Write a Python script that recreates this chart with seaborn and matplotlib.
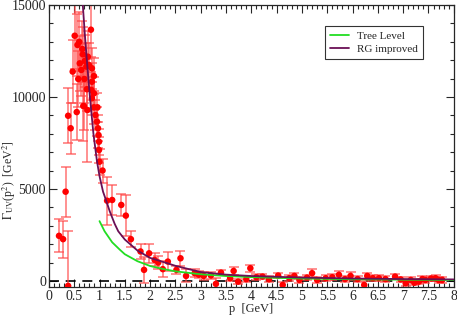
import matplotlib
matplotlib.use('Agg')
import matplotlib.pyplot as plt
import matplotlib.ticker as mticker
import seaborn as sns
import pandas as pd

# lattice data: momentum, value, error
p_data = [0.20, 0.28, 0.33, 0.38, 0.38, 0.43, 0.47, 0.51, 0.55, 0.565, 0.58, 0.60, 0.61, 0.64,
          0.66, 0.67, 0.68, 0.69, 0.70, 0.71, 0.74, 0.75, 0.76, 0.77, 0.79, 0.83, 0.84, 0.85,
          0.85, 0.85, 0.89, 0.89, 0.89, 0.92, 0.95, 0.96, 0.97, 0.98, 0.99, 0.99, 1.00, 1.06,
          1.15, 1.25, 1.43, 1.52, 1.62, 1.81, 1.88, 1.98, 2.09, 2.16, 2.25, 2.35, 2.52, 2.60,
          2.71, 2.88, 2.96, 3.06, 3.20, 3.30, 3.40, 3.58, 3.65, 3.74, 3.90, 3.98, 4.10, 4.22,
          4.35, 4.53, 4.62, 4.75, 4.85, 4.95, 5.10, 5.20, 5.30, 5.47, 5.60, 5.73, 5.85, 5.96,
          6.10, 6.23, 6.29, 6.40, 6.52, 6.65, 6.84, 6.95, 7.05, 7.15, 7.22, 7.31, 7.38, 7.44,
          7.55, 7.64, 7.70, 7.77]
gamma_data = [2450, 2270, 4850, -270, 8980, 8300, 11380, 13330, 9180, 12830, 10980, 13000, 11830, 11470,
              12610, 12320, 9510, 9510, 10980, 11960, 11650, 10420, 9290, 12190, 11740, 13660, 10380, 11560,
              10830, 9930, 11140, 10200, 9440, 9020, 8660, 9440, 8300, 7930, 7570, 7120, 6480, 6000,
              4360, 4400, 4130, 3550, 2270, 1600, 600, 1500, 1140, 1000, 640, 1050, 600, 1230,
              270, 420, 340, 270, 300, -160, 450, 145, 540, -40, 90, 690, 200, 235,
              90, 290, -220, 150, 270, 50, 180, 420, 50, 145, 200, 330, 100, 270,
              100, -220, 270, 150, 145, 100, 235, 80, -125, 50, -100, -40, 100, 50,
              130, 145, 50, 50]
gamma_err = [900, 1000, 1350, 3000, 1500, 1400, 1700, 1800, 1500, 1700, 1500, 1600, 1500, 1400,
             1500, 1500, 1900, 1300, 1300, 1400, 1300, 1200, 2800, 1400, 1200, 1500, 1000, 1100,
             1000, 900, 1000, 900, 900, 800, 800, 800, 700, 700, 700, 700, 700, 650,
             1300, 800, 600, 1100, 450, 400, 700, 500, 350, 350, 450, 500, 200, 400,
             350, 200, 200, 200, 200, 300, 150, 150, 200, 150, 150, 200, 150, 150,
             150, 150, 150, 150, 150, 150, 150, 200, 150, 150, 150, 200, 150, 200,
             150, 200, 150, 150, 150, 150, 150, 150, 150, 150, 150, 150, 150, 150,
             150, 150, 150, 150]

# curves
p_tree = [1.0, 1.1, 1.25, 1.4, 1.5, 1.75, 2.0, 2.25, 2.5, 3.0, 3.5, 4.0, 5.0, 6.0, 7.0, 8.0]
gamma_tree = [3250, 2700, 2100, 1700, 1450, 1070, 810, 650, 520, 360, 265, 205, 130, 90, 66, 51]
p_rg = [0.67, 0.71, 0.75, 0.81, 0.88, 0.95, 1.0, 1.07, 1.14, 1.2, 1.3, 1.37, 1.5, 1.75, 2.0,
        2.2, 2.5, 3.0, 3.5, 4.0, 5.0, 6.0, 7.0, 8.0]
gamma_rg = [15000, 13400, 12000, 10000, 8000, 6500, 5700, 4850, 4300, 3800, 3100, 2700, 2250,
            1650, 1250, 1080, 820, 480, 340, 265, 180, 130, 100, 80]

sns.set_style('ticks')
plt.rcParams['font.family'] = ['Liberation Serif', 'DejaVu Serif']
plt.rcParams['mathtext.fontset'] = 'stix'

fig = plt.figure(figsize=(4.57, 3.15), dpi=100)
ax = fig.add_axes([0.107, 0.089, 0.886, 0.895])

ax.axhline(0, color='black', lw=1.2, ls=(0, (6, 4)), zorder=1)
ax.errorbar(p_data, gamma_data, yerr=gamma_err, fmt='none', ecolor='#ff4848', alpha=0.7,
            elinewidth=1.2, capsize=3.5, capthick=1.2, zorder=2)
sns.scatterplot(x=p_data, y=gamma_data, color='red', s=22, edgecolor='none', ax=ax, zorder=3)

tree = pd.DataFrame({'p': p_tree, 'g': gamma_tree})
rg = pd.DataFrame({'p': p_rg, 'g': gamma_rg})
sns.lineplot(data=tree, x='p', y='g', color='#22dd22', lw=1.3, ax=ax, label='Tree Level', zorder=4)
sns.lineplot(data=rg, x='p', y='g', color='#6a0f55', lw=1.3, ax=ax, label='RG improved', zorder=4)

ax.set_xlim(0, 8)
ax.set_ylim(-330, 15000)
ax.xaxis.set_major_locator(mticker.MultipleLocator(0.5))
ax.xaxis.set_minor_locator(mticker.MultipleLocator(0.1))
ax.xaxis.set_major_formatter(mticker.FormatStrFormatter('%g'))
ax.yaxis.set_major_locator(mticker.MultipleLocator(5000))
ax.yaxis.set_minor_locator(mticker.MultipleLocator(1000))
ax.tick_params(which='both', direction='in', top=True, right=True, labelsize=10, width=0.8)
ax.tick_params(which='major', length=6, pad=2)
ax.tick_params(which='minor', length=3)
for s in ax.spines.values():
    s.set_linewidth(0.9)

ax.set_xlabel('p  [GeV]', fontsize=9)
ax.xaxis.set_label_coords(0.5, -0.058)
ax.set_ylabel(r'$\Gamma_{\rm UV}$(p$^2$)  [GeV$^2$]', fontsize=8.5)
ax.yaxis.set_label_coords(-0.076, 0.38)

leg = ax.legend(loc='upper right', bbox_to_anchor=(0.924, 0.926), fontsize=8, frameon=True,
                fancybox=False, edgecolor='black', handlelength=1.7, borderpad=0.45,
                labelspacing=0.3, handletextpad=0.7, borderaxespad=0)
leg.get_frame().set_linewidth(0.8)

plt.savefig('out.png', dpi=100)
